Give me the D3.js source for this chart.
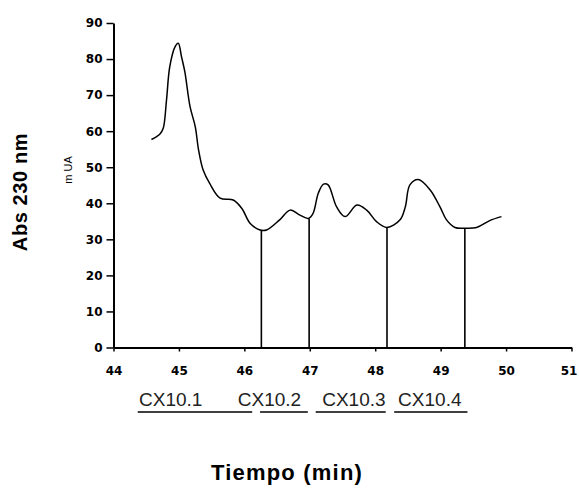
<!DOCTYPE html>
<html>
<head>
<meta charset="utf-8">
<script src="https://cdn.jsdelivr.net/npm/d3@7"></script>
<style>
  body { margin: 0; background: #fff; }
  svg { display: block; }
  .tick text { font-family: "DejaVu Sans", sans-serif; font-weight: bold; font-size: 12px; fill: #000; }
</style>
</head>
<body>
<svg id="chart" width="579" height="490"></svg>
<script>
// retention time (min) and absorbance (mUA)
const tiempo = [44.58, 44.66, 44.71, 44.76, 44.81, 44.86, 44.94, 44.99, 45.04, 45.09,
    45.17, 45.25, 45.30, 45.37, 45.47, 45.63, 45.83, 45.96, 46.09, 46.24,
    46.34, 46.54, 46.70, 46.85, 46.98, 47.05, 47.13, 47.21, 47.28, 47.41,
    47.54, 47.72, 47.87, 48.02, 48.18, 48.38, 48.46, 48.53, 48.66, 48.84,
    48.99, 49.09, 49.22, 49.37, 49.55, 49.75, 49.93]
const abs = [57.7, 58.5, 59.2, 60.8, 68.6, 77.9, 83.4, 84.4, 80.6, 76.5,
    66.8, 61.2, 54.8, 49.2, 45.5, 41.4, 40.9, 38.6, 34.4, 32.6,
    32.6, 35.4, 38.1, 36.7, 35.8, 37.2, 42.8, 45.3, 45.1, 39.0,
    36.3, 39.5, 38.1, 34.9, 33.3, 35.4, 39.0, 45.1, 46.6, 43.7,
    39.0, 35.4, 33.3, 33.1, 33.3, 35.2, 36.3]

// fraction cut points
const cortes = [46.26, 46.99, 48.18, 49.37]
const cortesAbs = [32.6, 35.8, 33.3, 33.1]

// fraction labels and the spans underlined beneath them
const fracciones = ['CX10.1', 'CX10.2', 'CX10.3', 'CX10.4']
const fraccionInicio = [44.39, 45.90, 47.19, 48.35]
const subrayado = [[44.37, 46.12], [46.24, 46.97], [47.09, 48.16], [48.29, 49.41]]

const xTicks = [44, 45, 46, 47, 48, 49, 50, 51]
const yTicks = [0, 10, 20, 30, 40, 50, 60, 70, 80, 90]

const svg = d3.select('#chart')

let x = d3.scaleLinear().domain([44, 51]).range([113.5, 571.5])
let y = d3.scaleLinear().domain([0, 90]).range([347.5, 23])

const data = tiempo.map((t, i) => ({ t: t, v: abs[i] }))

// axes
svg.append('g')
    .attr('transform', `translate(0,${y(0)})`)
    .call(d3.axisBottom(x).tickValues(xTicks).tickFormat(d3.format('d'))
        .tickSize(4).tickSizeOuter(0).tickPadding(15))
    .call(g => g.select('.domain').attr('stroke-width', 2))
    .call(g => g.selectAll('.tick line').attr('stroke-width', 1.5))
    .call(g => g.selectAll('.tick text').filter(d => d === 51).attr('dx', -3))

svg.append('g')
    .attr('transform', `translate(${x(44)},0)`)
    .call(d3.axisLeft(y).tickValues(yTicks).tickFormat(d3.format('d'))
        .tickSize(7).tickSizeOuter(0).tickPadding(4))
    .call(g => g.select('.domain').attr('stroke-width', 2))
    .call(g => g.selectAll('.tick line').attr('stroke-width', 1.5))

// drop lines
svg.selectAll('line.corte')
    .data(cortes)
    .enter().append('line')
    .attr('class', 'corte')
    .attr('x1', d => x(d))
    .attr('x2', d => x(d))
    .attr('y1', y(0))
    .attr('y2', (d, i) => y(cortesAbs[i]))
    .style('stroke', '#000')
    .style('stroke-width', 1.6)

// trace
let line = d3.line()
    .x(d => x(d.t))
    .y(d => y(d.v))
    .curve(d3.curveCatmullRom.alpha(0.5))

svg.append('path')
    .datum(data)
    .attr('d', line)
    .style('fill', 'none')
    .style('stroke', '#000')
    .style('stroke-width', 1.5)

// fraction labels
svg.selectAll('text.frac')
    .data(fracciones)
    .enter().append('text')
    .attr('class', 'frac')
    .attr('x', (d, i) => x(fraccionInicio[i]))
    .attr('y', 406)
    .style('font-family', '"Liberation Sans", Arial, sans-serif')
    .style('font-size', '19px')
    .style('fill', '#222')
    .text(d => d)

svg.selectAll('line.sub')
    .data(subrayado)
    .enter().append('line')
    .attr('class', 'sub')
    .attr('x1', d => x(d[0]))
    .attr('x2', d => x(d[1]))
    .attr('y1', 412)
    .attr('y2', 412)
    .style('stroke', '#000')
    .style('stroke-width', 1.5)

// axis titles
svg.append('text')
    .attr('transform', 'translate(27,192) rotate(-90)')
    .attr('text-anchor', 'middle')
    .style('font-family', '"Liberation Sans", Arial, sans-serif')
    .style('font-weight', 'bold')
    .style('font-size', '20px')
    .style('letter-spacing', '0.6px')
    .text('Abs 230 nm')

svg.append('text')
    .attr('transform', 'translate(72,170) rotate(-90)')
    .attr('text-anchor', 'middle')
    .style('font-family', '"Liberation Sans", Arial, sans-serif')
    .style('font-size', '11px')
    .text('m UA')

svg.append('text')
    .attr('x', 287)
    .attr('y', 480)
    .attr('text-anchor', 'middle')
    .style('font-family', '"Liberation Sans", Arial, sans-serif')
    .style('font-weight', 'bold')
    .style('font-size', '22px')
    .style('letter-spacing', '1.2px')
    .text('Tiempo (min)')
</script>
</body>
</html>
